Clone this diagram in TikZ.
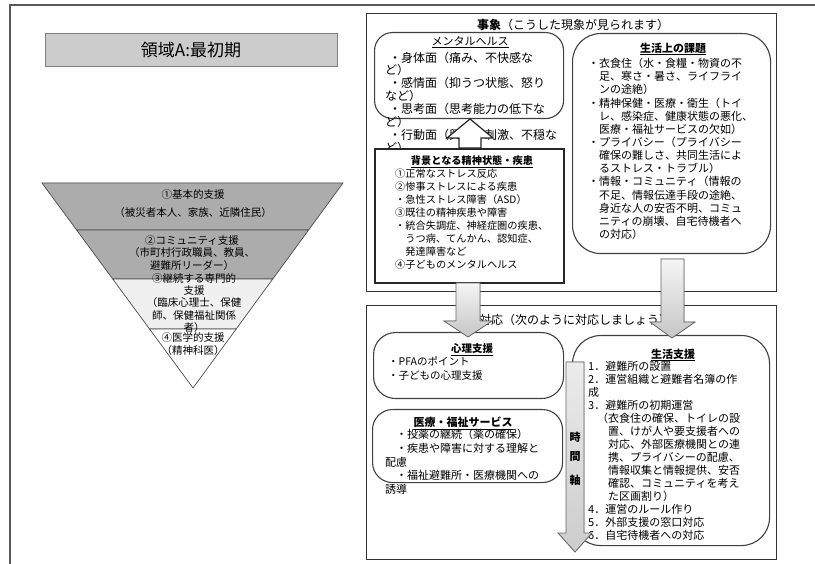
\documentclass[tikz,border=0pt]{standalone}
\usepackage{fontspec}
\setmainfont{Noto Sans CJK JP}
\usetikzlibrary{calc}
\newcommand{\fsz}[2]{\fontsize{#1}{#2}\selectfont}
\begin{document}
\begin{tikzpicture}[x=1pt,y=-1pt,
  outerline/.style={draw=black!65,line width=1.6pt},
  framebox/.style={draw=black!80,line width=1.3pt,inner sep=0pt,anchor=north west,fill=white},
  rbox/.style={draw=black!75,line width=1.1pt,inner sep=0pt,anchor=north west,rounded corners=#1},
  sqbox/.style={draw=black!85,line width=1.6pt,inner sep=0pt,anchor=north west,fill=white},
  layer/.style={draw=black!70,line width=0.7pt},
  txt/.style={inner sep=0pt,anchor=north west,align=left},
  ptxt/.style={inner sep=0pt,align=center,font=\fsz{10.5}{12.2}},
  head/.style={inner sep=0pt},
  bigarrow/.style={draw=black!60,line width=0.8pt,top color=gray!8,bottom color=gray!45},
  timearrow/.style={draw=black!60,line width=0.8pt,top color=gray!15,bottom color=gray!40},
  whitearrow/.style={draw=black!85,line width=1.2pt,fill=white}
]
\useasboundingbox (0,0) rectangle (815,564);
\fill[white] (0,0) rectangle (815,564);

% outer frame
\draw[outerline] (10,564) -- (10,5) -- (815,5);

% title
\node[draw=black!50,fill=gray!40,line width=0.8pt,minimum width=292pt,minimum height=33pt,inner sep=0pt,font=\fsz{17}{17}] (title) at (191,50) {領域A:最初期};

% pyramid
\coordinate (pA) at (42,183);
\coordinate (pB) at (343,183);
\coordinate (pC) at (193,388);
\coordinate (l1) at ($(pA)!0.2293!(pC)$);
\coordinate (r1) at ($(pB)!0.2293!(pC)$);
\coordinate (l2) at ($(pA)!0.4683!(pC)$);
\coordinate (r2) at ($(pB)!0.4683!(pC)$);
\coordinate (l3) at ($(pA)!0.7122!(pC)$);
\coordinate (r3) at ($(pB)!0.7122!(pC)$);
\filldraw[layer,fill=gray!65] (pA) -- (pB) -- (r1) -- (l1) -- cycle;
\filldraw[layer,fill=gray!65] (l1) -- (r1) -- (r2) -- (l2) -- cycle;
\filldraw[layer,fill=gray!12] (l2) -- (r2) -- (r3) -- (l3) -- cycle;
\filldraw[layer,fill=white] (l3) -- (r3) -- (pC) -- cycle;
\node[ptxt,font=\fsz{10.5}{18}] (p1) at (193,204) {①基本的支援\\（被災者本人、家族、近隣住民）};
\node[ptxt] (p2) at (192,253) {②コミュニティ支援\\（市町村行政職員、教員、\\避難所リーダー）};
\node[ptxt] (p3) at (194,303) {③継続する専門的\\支援\\（臨床心理士、保健\\師、保健福祉関係\\者）};
\node[ptxt] (p4) at (193,344) {④医学的支援\\（精神科医）};

% ===== top frame: 事象 =====
\node[framebox,minimum width=410pt,minimum height=278pt] (topframe) at (366,13) {};
\node[head,anchor=west,font=\fsz{12}{12}] (toptitle) at (477,25) {{\bfseries 事象}（こうした現象が見られます）};

% mental health box
\node[rbox=18pt,minimum width=189pt,minimum height=86pt] (mh) at (374,32) {};
\node[head,font=\fsz{11}{11}] (mhtitle) at (470,42) {\underline{メンタルヘルス}};
\node[txt,font=\fsz{12}{12.9}] (mhtext) at (385,51.6) {%
\hspace*{4pt}・身体面（痛み、不快感な\\
ど）\\
\hspace*{4pt}・感情面（抑うつ状態、怒り\\
など）\\
\hspace*{4pt}・思考面（思考能力の低下な\\
ど）\\
\hspace*{4pt}・行動面（興奮・刺激、不穏な\\
ど）};

% background box
\node[sqbox,minimum width=189pt,minimum height=134pt] (bg) at (374,148) {};
\node[head,font=\fsz{10.2}{10.2}\bfseries] (bgtitle) at (472,162) {\underline{背景となる精神状態・疾患}};
\node[txt,font=\fsz{10.2}{13}] (bgtext) at (395,168.4) {%
①正常なストレス反応\\
②惨事ストレスによる疾患\\
・急性ストレス障害（ASD）\\
③既往の精神疾患や障害\\
・統合失調症、神経症圏の疾患、\\
　うつ病、てんかん、認知症、\\
　発達障害など\\
④子どものメンタルヘルス};

% up arrow from bg to mh
\filldraw[whitearrow] (459,148) -- (459,138) -- (447,138) -- (470,119) -- (493,138) -- (481,138) -- (481,148) -- cycle;

% life issues box
\node[rbox=28pt,minimum width=198pt,minimum height=220pt] (li) at (572,33) {};
\node[head,font=\fsz{11}{11}\bfseries] (lititle) at (673,49) {\underline{生活上の課題}};
\node[txt,font=\fsz{11}{13.15}] (litext) at (588,58) {%
・衣食住（水・食糧・物資の不\\
　足、寒さ・暑さ、ライフライ\\
　ンの途絶）\\
・精神保健・医療・衛生（トイ\\
　レ、感染症、健康状態の悪化、\\
　医療・福祉サービスの欠如）\\
・プライバシー（プライバシー\\
　確保の難しさ、共同生活によ\\
　るストレス・トラブル）\\
・情報・コミュニティ（情報の\\
　不足、情報伝達手段の途絶、\\
　身近な人の安否不明、コミュ\\
　ニティの崩壊、自宅待機者へ\\
　の対応）};

% ===== bottom frame: 対応 =====
\node[framebox,minimum width=410pt,minimum height=254pt] (botframe) at (366,305) {};
\node[head,anchor=west,font=\fsz{12}{12}] (bottitle) at (479,320) {対応（次のように対応しましょう）};

% psychological support
\node[rbox=22pt,minimum width=190pt,minimum height=66pt] (ps) at (373,332) {};
\node[head,font=\fsz{10.5}{10.5}\bfseries] (pstitle) at (472,350) {\underline{心理支援}};
\node[txt,font=\fsz{10.5}{14}] (pstext) at (388,356.3) {%
・PFAのポイント\\
・子どもの心理支援};

% medical / welfare
\node[rbox=20pt,minimum width=190pt,minimum height=73pt] (md) at (372,409) {};
\node[head,font=\fsz{11}{11}\bfseries] (mdtitle) at (463,423) {\underline{医療・福祉サービス}};
\node[txt,font=\fsz{11}{13.7}] (mdtext) at (385,429) {%
　・投薬の継続（薬の確保）\\
　・疾患や障害に対する理解と\\
配慮\\
　・福祉避難所・医療機関への\\
誘導};

% life support
\node[rbox=28pt,minimum width=197pt,minimum height=210pt] (ls) at (572,335) {};
\node[head,font=\fsz{11}{11}\bfseries] (lstitle) at (673,355) {\underline{生活支援}};
\node[txt,font=\fsz{11}{13}] (lstext) at (588,361) {%
1．避難所の設置\\
2．運営組織と避難者名簿の作\\
成\\
3．避難所の初期運営\\
\hspace*{9pt}（衣食住の確保、トイレの設\\
\hspace*{20pt}置、けが人や要支援者への\\
\hspace*{20pt}対応、外部医療機関との連\\
\hspace*{20pt}携、プライバシーの配慮、\\
\hspace*{20pt}情報収集と情報提供、安否\\
\hspace*{20pt}確認、コミュニティを考え\\
\hspace*{20pt}た区画割り）\\
4．運営のルール作り\\
5．外部支援の窓口対応\\
6．自宅待機者への対応};

% time axis arrow
\filldraw[timearrow] (566,362) -- (584,362) -- (584,533) -- (592,533) -- (575,552) -- (558,533) -- (566,533) -- cycle;
\node[head,font=\fsz{11}{11}\bfseries] (t1) at (575,437) {時};
\node[head,font=\fsz{11}{11}\bfseries] (t2) at (575,457) {間};
\node[head,font=\fsz{11}{11}\bfseries] (t3) at (575,480) {軸};

% big down arrows
\filldraw[bigarrow] (456,283) -- (480,283) -- (480,321) -- (492,321) -- (468,337) -- (444,321) -- (456,321) -- cycle;
\filldraw[bigarrow] (661,259) -- (684,259) -- (684,322) -- (695,322) -- (672,338) -- (650,322) -- (661,322) -- cycle;
\end{tikzpicture}
\end{document}
